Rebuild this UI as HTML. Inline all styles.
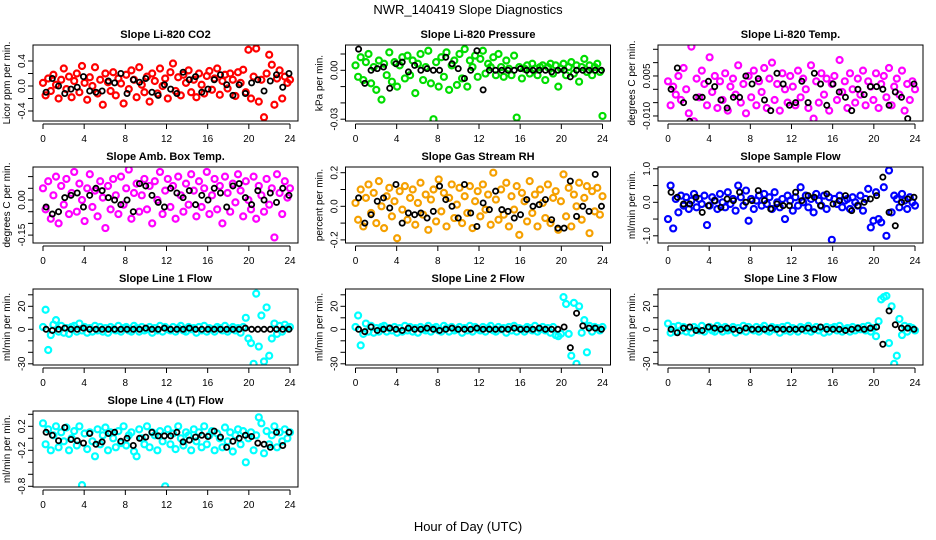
<!DOCTYPE html>
<html><head><meta charset="utf-8"><style>
html,body{margin:0;padding:0;background:#fff;}
svg{display:block;font-family:"Liberation Sans",sans-serif;}
</style></head><body>
<svg id="chart" width="936" height="540" viewBox="0 0 936 540">
<text x="468" y="14" text-anchor="middle" font-size="13">NWR_140419  Slope Diagnostics</text>
<text x="468" y="531" text-anchor="middle" font-size="13">Hour of Day (UTC)</text>
</svg>
<script>
const xTicks = [0,4,8,12,16,20,24];
const titles = ["Slope Li-820 CO2","Slope Li-820 Pressure","Slope Li-820 Temp.","Slope Amb. Box Temp.","Slope Gas Stream RH","Slope Sample Flow","Slope Line 1 Flow","Slope Line 2 Flow","Slope Line 3 Flow","Slope Line 4 (LT) Flow"];
const yLabels = ["Licor ppm per min.","kPa per min.","degrees C per min.","degrees C per min.","percent per min.","ml/min per min.","ml/min per min.","ml/min per min.","ml/min per min.","ml/min per min."];
const colors = ["#ff0000","#00dd00","#ff00ff","#ff00ff","#f5a000","#0000ff","#00ffff","#00ffff","#00ffff","#00ffff"];
const yTickVals = [[-0.4,-0.2,0,0.2,0.4],[-0.03,-0.02,-0.01,0,0.01],[-0.010,-0.005,0,0.005,0.010,0.015],[-0.15,-0.10,-0.05,0,0.05,0.10],[-0.2,-0.1,0,0.1,0.2],[-1,-0.5,0,0.5,1],[-30,-20,-10,0,10,20,30],[-30,-20,-10,0,10,20,30],[-30,-20,-10,0,10,20,30],[-0.8,-0.6,-0.4,-0.2,0,0.2,0.4]];
const yTickLabels = [["-0.4","","0.0","","0.4"],["-0.03","","","0.00",""],["-0.010","","","0.005","",""],["-0.15","","","0.00","",""],["-0.2","","0.0","","0.2"],["-1.0","","0.0","","1.0"],["-30","","","0","","20",""],["-30","","","0","","20",""],["-30","","","0","","20",""],["-0.8","","","-0.2","","0.2",""]];
const colored = [
[0.05,-0.15,0.12,-0.08,0.18,0.02,-0.2,0.1,0.28,-0.05,0.15,-0.18,0.08,0.2,-0.1,0.32,0.05,-0.22,0.14,0.0,0.3,-0.12,0.1,-0.3,0.2,0.06,-0.08,0.22,-0.15,0.12,0.04,-0.28,0.18,-0.05,0.25,0.1,-0.18,0.3,0.02,-0.1,0.15,-0.25,0.2,0.08,-0.12,0.28,0.0,0.12,-0.2,0.22,0.36,-0.08,0.14,-0.15,0.18,0.05,0.25,-0.1,0.1,-0.18,0.2,0.02,-0.12,0.16,0.24,-0.06,0.12,0.28,-0.14,0.08,0.18,-0.04,0.2,0.1,-0.16,0.22,0.05,0.26,-0.1,0.58,-0.2,0.15,0.6,-0.25,0.1,-0.5,0.2,0.5,0.34,-0.3,0.12,0.25,-0.2,0.15,0.05,0.1],
[0.003,-0.004,0.008,-0.006,0.005,0.01,-0.008,0.002,-0.012,0.006,-0.018,0.004,-0.003,0.011,-0.007,0.005,-0.01,0.003,0.008,-0.005,0.009,-0.003,0.006,-0.014,0.004,0.01,-0.006,0.002,0.012,-0.008,-0.03,0.005,-0.01,0.008,-0.004,0.011,-0.012,0.003,0.006,-0.009,0.01,-0.005,0.013,-0.01,0.006,0.002,0.009,-0.004,0.007,0.012,-0.002,0.004,0.002,0.008,-0.003,0.01,0.002,-0.004,0.006,0.001,-0.003,0.009,-0.029,0.002,-0.005,0.001,0.003,-0.002,0.004,0.001,-0.003,0.002,0.003,-0.006,0.002,0.004,-0.002,0.003,-0.01,0.001,0.004,-0.003,0.002,0.005,-0.002,0.003,-0.007,0.002,0.007,-0.001,0.003,-0.003,0.002,0.004,-0.001,-0.028],
[0.003,-0.006,0.001,-0.002,0.005,-0.004,0.008,0.0,-0.009,0.016,-0.012,0.004,-0.003,0.007,0.002,-0.006,0.012,-0.001,0.005,-0.007,0.003,-0.004,0.006,-0.008,0.001,0.004,-0.002,0.009,-0.005,0.002,-0.009,0.005,-0.003,0.007,-0.006,0.003,-0.001,0.008,-0.007,0.004,0.01,-0.004,0.002,-0.008,0.006,0.0,-0.005,0.005,0.001,-0.006,0.007,-0.003,0.004,0.0,-0.007,0.009,-0.011,0.003,-0.005,0.006,-0.002,0.004,-0.008,0.002,0.005,-0.004,0.011,-0.001,0.003,-0.007,0.006,0.0,-0.005,0.004,-0.002,0.007,-0.006,0.003,0.001,-0.004,0.006,-0.007,0.002,0.005,-0.003,0.008,-0.006,0.001,0.004,-0.002,0.007,-0.008,0.002,-0.004,0.003,0.0],
[0.05,-0.04,0.08,-0.08,0.02,0.1,-0.1,0.06,-0.02,0.09,-0.06,0.03,0.12,-0.05,0.07,0.0,-0.09,0.05,0.11,-0.03,0.04,-0.07,0.08,0.01,-0.12,0.06,-0.04,0.09,0.02,-0.06,0.1,-0.02,0.05,0.13,-0.08,0.03,0.07,-0.05,0.02,0.09,-0.04,0.06,-0.1,0.08,0.0,0.12,-0.06,0.04,0.09,-0.03,0.06,-0.08,0.1,0.02,-0.05,0.07,-0.02,0.11,0.04,-0.07,0.08,-0.03,0.05,0.12,-0.06,0.02,0.09,-0.04,0.06,-0.1,0.1,0.03,-0.05,0.07,-0.01,0.11,0.04,-0.07,0.08,0.0,-0.04,0.1,-0.08,0.06,0.02,-0.05,0.09,-0.02,0.05,-0.16,0.11,0.03,-0.06,0.08,0.01,0.05],
[0.02,-0.08,0.1,-0.12,0.05,0.13,-0.04,0.08,-0.1,0.15,0.0,-0.13,0.06,0.11,-0.06,0.03,-0.19,0.09,-0.02,0.12,-0.08,0.05,0.1,-0.11,0.02,0.14,-0.05,0.07,-0.14,0.04,0.1,-0.09,0.16,-0.03,0.08,-0.12,0.05,0.13,-0.07,0.01,0.11,-0.1,0.06,-0.04,0.12,-0.13,0.03,0.09,-0.06,0.13,-0.02,0.07,-0.11,0.2,0.04,-0.08,0.1,-0.05,0.14,-0.12,0.06,-0.02,0.12,-0.17,0.08,0.03,-0.09,0.15,-0.04,0.07,-0.12,0.1,0.02,-0.07,0.13,-0.1,0.05,0.09,-0.14,0.03,0.19,-0.06,0.11,-0.12,0.07,0.0,0.14,-0.08,0.05,0.12,-0.16,0.09,-0.03,0.11,-0.05,0.06],
[-0.5,0.5,-0.78,0.1,-0.3,0.2,-0.1,0.15,-0.2,0.05,0.25,-0.15,0.1,-0.05,0.2,-0.68,-0.1,0.15,0.05,-0.2,0.25,0.0,-0.15,0.3,-0.05,0.1,-0.25,0.5,0.15,-0.1,0.35,-0.55,0.1,-0.2,0.05,0.2,-0.1,0.25,-0.05,0.15,-0.2,0.3,0.0,-0.15,0.1,-0.5,0.2,0.05,-0.25,0.15,-0.1,0.45,0.0,0.2,-0.15,0.1,-0.3,0.25,0.05,-0.1,0.2,-0.2,0.15,-1.12,0.1,-0.05,0.2,-0.15,0.05,0.1,-0.2,0.15,0.0,-0.1,0.2,-0.25,0.1,0.4,-0.75,-0.55,0.3,-0.5,-0.6,0.45,-1.0,0.95,-0.3,0.2,0.1,-0.15,0.25,0.05,-0.2,0.15,0.0,-0.1],
[2,17,-18,-5,4,8,-2,3,-3,1,-4,2,3,-2,5,-1,2,-3,1,-2,3,-1,2,-2,1,-3,2,0,-1,3,-2,1,2,-1,-2,3,1,-2,2,-1,0,2,-3,1,-1,3,-2,2,0,-1,2,-2,1,3,-1,-2,2,0,1,-3,2,-1,3,-2,1,0,-2,2,1,-1,3,-2,0,2,-1,1,-3,2,10,-8,-12,-30,31,-15,12,-28,19,-23,-8,5,-4,3,-2,4,1,2],
[2,12,-14,-4,5,-2,3,-3,1,-2,2,3,-2,1,-1,2,-3,1,-2,3,-1,2,-2,1,-3,2,0,-1,3,-2,1,2,-1,-2,3,1,-2,2,-1,0,2,-3,1,-1,3,-2,2,0,-1,2,-2,1,3,-1,-2,2,0,1,-3,2,-1,3,-2,1,0,-2,2,1,-1,3,-2,0,2,-1,1,-3,2,-5,-6,-4,28,22,-4,-23,23,-30,20,-3,8,-20,3,-2,2,1,-1,2],
[5,-3,2,-2,3,-1,2,-2,1,-3,2,0,-1,3,-2,1,2,-1,-2,3,1,-2,2,-1,0,2,-3,1,-1,3,-2,2,0,-1,2,-2,1,3,-1,-2,2,0,1,-3,2,-1,3,-2,1,0,-2,2,1,-1,3,-2,0,2,-1,1,-3,2,-2,1,2,-1,3,-2,0,1,-2,2,-1,1,0,2,-1,3,-2,1,-6,7,26,28,29,-12,20,-30,-23,9,-5,3,-2,2,1,-1],
[0.25,-0.1,0.15,-0.2,0.05,0.2,-0.15,0.1,-0.05,0.18,-0.2,0.0,0.12,-0.12,0.2,-0.78,0.08,-0.18,0.1,-0.05,-0.3,0.15,-0.1,0.05,0.18,-0.2,0.1,0.0,-0.15,0.12,-0.08,0.2,-0.12,0.05,0.1,-0.22,-0.3,0.15,0.0,-0.1,0.2,-0.15,0.1,0.05,-0.2,0.12,-0.05,-0.8,0.15,-0.1,0.08,-0.18,0.2,0.0,-0.12,0.1,0.05,-0.2,0.15,-0.05,0.1,-0.15,0.2,-0.1,0.05,0.12,-0.2,0.08,0.0,-0.15,0.18,-0.05,0.1,-0.22,0.05,0.15,-0.1,0.12,-0.4,0.0,0.1,-0.2,0.05,0.35,0.25,-0.25,0.12,-0.1,0.05,0.2,-0.15,0.1,-0.05,0.15,0.0,0.1]
];
const black = [
[-0.1,0.12,0.0,-0.12,-0.05,-0.02,0.15,-0.08,-0.1,-0.08,0.08,0.05,0.2,-0.12,0.1,0.06,0.12,-0.1,-0.15,0.02,-0.05,-0.12,0.22,0.1,0.15,-0.1,-0.05,0.1,0.18,0.02,-0.15,0.02,-0.12,0.05,0.1,-0.08,0.08,0.18,-0.02,0.2],
[0.013,-0.008,0.0,0.001,0.002,-0.011,0.004,0.005,-0.001,0.003,0.0,0.001,0.0,0.0,0.008,0.004,0.001,-0.005,0.0,0.012,-0.012,0.0,0.0,0.0,0.0,0.0,0.001,0.0,0.0,0.0,0.0,-0.001,0.0,0.0,-0.004,0.0,0.0,0.0,0.0,0.0],
[0.0,0.008,-0.005,-0.012,-0.003,-0.003,0.003,0.001,-0.004,-0.007,-0.003,-0.003,0.005,0.002,0.004,-0.004,-0.008,0.006,0.002,-0.006,-0.005,0.003,-0.005,0.006,0.002,-0.006,0.002,-0.001,-0.003,-0.008,0.0,-0.002,0.001,0.001,0.0,-0.006,-0.001,-0.003,-0.011,0.002],
[-0.03,-0.06,-0.05,0.01,0.02,0.03,-0.03,0.02,0.05,0.04,0.01,0.0,-0.02,0.0,-0.05,0.07,0.06,0.02,-0.01,-0.03,0.05,0.03,0.01,0.04,-0.02,0.02,0.0,0.05,0.03,-0.03,0.06,0.07,0.01,-0.02,0.04,0.0,0.03,-0.01,0.05,0.02],
[0.05,-0.1,-0.05,0.03,0.05,-0.01,0.13,-0.1,-0.04,-0.05,-0.04,-0.07,-0.03,0.12,0.04,0.0,-0.07,0.13,-0.04,-0.12,0.02,-0.02,0.09,-0.02,-0.03,-0.07,-0.05,0.04,0.0,0.01,0.04,-0.08,-0.13,-0.13,0.15,-0.06,0.0,-0.03,0.19,0.0],
[0.3,0.15,-0.05,-0.05,0.15,-0.3,-0.1,0.05,-0.15,0.1,0.05,0.3,0.0,0.05,0.35,0.05,-0.2,-0.05,-0.1,-0.1,0.3,0.05,0.2,0.15,-0.1,0.25,-0.05,0.05,0.2,-0.25,-0.1,0.0,0.1,0.2,0.75,-0.3,-0.7,0.0,0.1,0.15],
[0,-1,0,1,0,0,1,0,0,0,0,0,0,0,0,0,1,0,0,1,0,0,0,1,0,0,0,0,0,0,0,0,1,0,0,0,0,0,0,0],
[0,-2,2,-1,0,1,0,-1,1,0,0,1,0,-1,0,1,0,0,0,1,0,0,0,0,0,1,0,0,0,1,0,0,0,2,-16,14,3,1,1,0],
[0,-3,1,2,-1,-1,2,1,0,1,0,-1,1,0,0,0,1,0,0,0,0,0,1,0,2,0,0,0,-1,0,1,0,1,2,-13,16,4,1,1,0],
[0.1,0.05,-0.04,0.18,-0.02,-0.04,-0.08,0.08,-0.1,-0.06,0.08,0.1,-0.05,0.0,-0.12,0.0,0.02,0.1,0.04,0.04,0.04,0.1,-0.06,-0.03,0.02,0.05,0.03,0.12,0.02,-0.15,-0.05,0.0,0.05,0.03,-0.08,-0.1,-0.15,0.1,-0.12,0.1]
];
// layout (not data)
const yZeroPx = [86,70.3,89.3,78,84.3,80.3,85.3,85.3,85.3,72.3];
const yPxPerUnit = [62.5,1630,2667,234,168,33.5,1.15,1.15,1.15,60];

const NS = "http://www.w3.org/2000/svg";
const svg = document.getElementById('chart');
function mk(tag, attrs, parent){ const e=document.createElementNS(NS,tag); for(const k in attrs) e.setAttribute(k,attrs[k]); (parent||svg).appendChild(e); return e; }

for(let p=0;p<10;p++){
  const col=p%3, row=Math.floor(p/3);
  const ox=312.5*col, oy=122*row;
  const x0=43+ox, pxh=247/24;
  const xs=h=>x0+h*pxh;
  const ys=v=>oy+yZeroPx[p]-v*yPxPerUnit[p];
  const g=mk('g',{});
  
  
  const L=33+ox, R=298+ox, T=45+oy, B=121+oy;
  const t=mk('text',{x:(L+R)/2,y:38+oy,'text-anchor':'middle','font-size':'11','font-weight':'bold'},g);
  t.textContent=titles[p];
  
  
  const yl=mk('text',{x:0,y:0,'text-anchor':'middle','font-size':'10',transform:`translate(${10+ox},${(T+B)/2}) rotate(-90)`},g);
  yl.textContent=yLabels[p];
  
  
  const xa=mk('line',{x1:xs(0),x2:xs(24),y1:B+3,y2:B+3,stroke:'#000','stroke-width':1},g);
  
  
  xTicks.forEach(v=>{
    mk('line',{x1:xs(v),x2:xs(v),y1:B+3,y2:B+8,stroke:'#000'},g);
    const tl=mk('text',{x:xs(v),y:B+21,'text-anchor':'middle','font-size':'10'},g);
    tl.textContent=String(v);
    
    
  });
  const tv=yTickVals[p];
  const ya=mk('line',{x1:L,x2:L,y1:ys(tv[0]),y2:ys(tv[tv.length-1]),stroke:'#000'},g);
  
  
  tv.forEach((v,i)=>{
    mk('line',{x1:L-5,x2:L,y1:ys(v),y2:ys(v),stroke:'#000'},g);
    if(yTickLabels[p][i]){
      const tl=mk('text',{x:0,y:0,'text-anchor':'middle','font-size':'10',transform:`translate(${L-8},${ys(v)}) rotate(-90)`},g);
      tl.textContent=yTickLabels[p][i];
      
      
    }
  });
  const cp=mk('clipPath',{id:'cp'+p},g);
  mk('rect',{x:L,y:T,width:R-L,height:B-T},cp);
  const pts=mk('g',{'clip-path':`url(#cp${p})`},g);
  const c=colored[p];
  c.forEach((v,i)=>{
    const h=i*24/(c.length-1);
    const m=mk('circle',{cx:xs(h),cy:ys(v),r:3,fill:'none',stroke:colors[p],'stroke-width':2.2},pts);
    
    
  });
  const b=black[p];
  b.forEach((v,i)=>{
    const h=0.3+i*23.6/(b.length-1);
    const m=mk('circle',{cx:xs(h),cy:ys(v),r:2.6,fill:'none',stroke:'#000','stroke-width':1.8},pts);
    
    
  });
  const box=mk('rect',{x:L,y:T,width:R-L,height:B-T,fill:'none',stroke:'#000','stroke-width':1},g);
  
  
}
</script>
</body></html>
